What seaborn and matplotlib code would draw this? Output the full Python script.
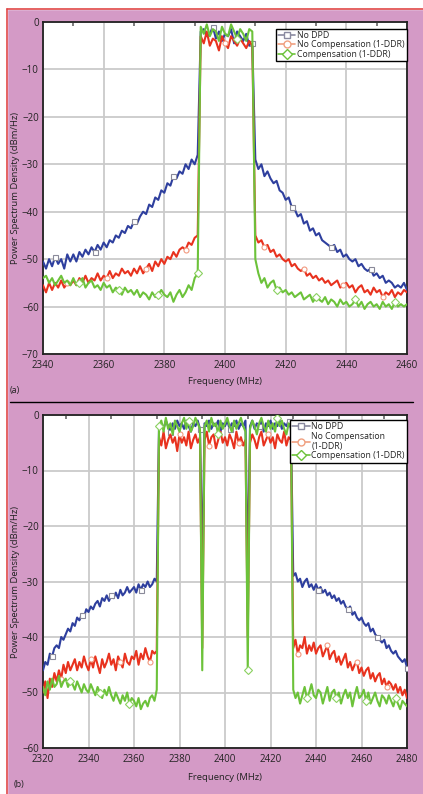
import numpy as np
import pandas as pd
import matplotlib
matplotlib.use("Agg")
import matplotlib.pyplot as plt
from matplotlib.lines import Line2D
import seaborn as sns

######################
## Data (a): 2340-2460 MHz, 1 MHz steps
######################

freq_a = np.arange(2340, 2461)

blue_a_left = [-50.5, -52, -50, -51.5, -49.5, -51, -50, -52, -49, -50.5,
               -49, -50.5, -48.5, -49.5, -48, -49, -47.5, -48.5, -47, -48,
               -46.5, -47.5, -46, -46.5, -45, -45.5, -44, -44.5, -43, -43.5,
               -42, -42.5, -41, -40, -40.5, -38.5, -39, -37, -37.5, -35.5,
               -36, -34, -34.5, -32.5, -33, -31.5, -32, -30, -31, -29,
               -30, -28]
blue_a_band = [-2, -1.5, -3, -2.5, -1, -3.5, -2, -4, -2.5, -3, -1.5, -4.5, -2, -3, -4, -2.5, -5, -4.5]
blue_a_right = [-29, -31, -30, -32.5, -31.5, -33, -34, -33.5, -35.5, -36,
                -37.5, -37, -39, -39.5, -41, -40.5, -42.5, -42, -44, -43.5,
                -45, -44.5, -46, -46.5, -47, -47.5, -47, -48.5, -48, -49.5,
                -49, -50, -50.5, -50, -51.5, -51, -52, -52.5, -52, -53.5,
                -53, -54, -53.5, -55, -54.5, -55, -56, -55.5, -56, -55,
                -56.5]

red_a_left = [-55.5, -57, -55, -56.5, -55, -56, -54.5, -56, -55, -55.5,
              -54.5, -55.5, -54, -55, -53.5, -55, -54, -54.5, -53, -54.5,
              -53.5, -54, -52.5, -54, -53, -53.5, -52, -53, -52.5, -53.5,
              -52, -53, -51.5, -53, -52, -51, -52.5, -50.5, -51.5, -50,
              -51, -49.5, -50, -48.5, -49.5, -48, -47.5, -48, -46.5, -47,
              -45.5, -45]
red_a_band = [-3, -4.5, -2, -5, -3.5, -4, -6, -3, -4.5, -5.5, -3, -4, -5, -3.5, -4.5, -5.5, -4, -5]
red_a_right = [-45, -46.5, -46, -47.5, -47, -48.5, -48, -49.5, -49, -50,
               -50.5, -50, -51.5, -51, -52, -52.5, -52, -53.5, -53, -54,
               -53.5, -54.5, -54, -55, -54.5, -55.5, -55, -54.5, -56, -55.5,
               -55, -56, -55.5, -57, -56, -55.5, -57, -56.5, -57.5, -56,
               -57, -56.5, -58, -57, -57.5, -56.5, -58, -57, -57.5, -56.5,
               -57]

green_a_left = [-54, -53.5, -55, -54, -55.5, -54.5, -53.5, -55, -54.5, -55.5,
                -54, -55.5, -55, -54, -56, -55, -54.5, -56, -55.5, -56.5,
                -55, -56, -55.5, -57, -56, -56.5, -57.5, -56, -57, -56.5,
                -57.5, -56.5, -58, -57, -57.5, -58.5, -57, -58, -57.5, -56.5,
                -57.5, -58, -57, -59, -57.5, -56.5, -58, -57, -55.5, -56.5,
                -54, -53]
green_a_band = [-1, -2.5, -0.5, -3, -1.5, -2, -4, -1, -2.5, -3, -0.5, -2, -3.5, -1.5, -2.5, -4, -1.5, -2]
green_a_right = [-50, -53, -55, -54, -56, -55, -54.5, -56.5, -56, -57,
                 -56.5, -57.5, -57, -58, -57.5, -57, -58.5, -58, -57.5, -59,
                 -58, -58.5, -59, -58, -59.5, -58.5, -59, -60, -58.5, -59.5,
                 -59, -60, -59.5, -58.5, -60, -59, -60.5, -59.5, -59, -60,
                 -59.5, -60.5, -59, -60, -59.5, -60.5, -59, -60, -59.5, -60,
                 -59.5]

######################
## Data (b): 2320-2480 MHz, 1 MHz steps
######################

freq_b = np.arange(2320, 2481)

blue_b_left = [-46, -44.5, -45, -43, -43.5, -42, -41.5, -42, -40, -40.5,
               -39.5, -38.5, -39, -37.5, -38, -36.5, -37, -36, -36.5, -35,
               -35.5, -34.5, -35, -34, -33.5, -34.5, -33, -33.5, -32.5, -33.5,
               -32.5, -33, -32, -33, -31.5, -32.5, -32, -31, -32, -31.5,
               -31, -32, -30.5, -31.5, -30.5, -31, -30, -31, -30.5, -29.5,
               -30]
blue_b_band = [-2, -1.5, -2.5, -1, -2, -3, -1.5, -2.5, -1, -2,
               -1.5, -2.5, -1, -2, -3, -1.5, -2, -1, -2.5,
               -28,
               -1.5, -2, -1, -2.5, -1.5, -2, -1, -3, -1.5, -2,
               -1, -2.5, -1.5, -2, -1, -2.5, -1.5, -2, -1,
               -29,
               -2, -1, -2.5, -1.5, -2, -1, -3, -1.5, -2, -1,
               -2.5, -1.5, -2, -1, -2.5, -1.5, -2, -1, -2.5]
blue_b_right = [-29, -28.5, -30, -29.5, -31, -30, -29.5, -31, -30.5, -31.5,
                -30.5, -31.5, -31, -32, -31.5, -32.5, -32, -33, -32.5, -33.5,
                -33, -34, -33.5, -34.5, -35, -34.5, -36, -35.5, -36.5, -37,
                -36.5, -37.5, -38, -37.5, -39, -38.5, -39.5, -40, -40.5, -41,
                -40.5, -42, -41.5, -42.5, -43, -42.5, -43.5, -44, -44.5, -44,
                -45.5]

red_b_left = [-50, -48, -51, -47.5, -49, -46.5, -48, -46, -47.5, -45,
              -46.5, -44.5, -46, -45, -44, -46, -44.5, -45.5, -43.5, -45,
              -46, -44, -45.5, -43.5, -45, -46.5, -44, -45.5, -44.5, -43,
              -45, -44, -46, -43.5, -44.5, -45.5, -43, -44.5, -45, -43.5,
              -44, -42.5, -45, -43, -44, -42, -43.5, -44.5, -42.5, -43,
              -42.5]
red_b_band = [-4, -5.5, -3, -6, -4.5, -3.5, -5, -4, -6.5, -3.5,
              -5, -4, -5.5, -3, -6, -4.5, -3.5, -5, -4,
              -42,
              -4.5, -3, -5.5, -4, -3.5, -6, -4.5, -3, -5, -4,
              -5.5, -3.5, -4.5, -6, -3, -5, -4, -5.5, -4.5,
              -40,
              -5, -3.5, -4.5, -6, -4, -3, -5.5, -4.5, -3.5, -5,
              -4, -6, -3.5, -4.5, -5, -3, -5.5, -4, -4.5]
red_b_right = [-42, -40.5, -43, -41.5, -42, -40, -43, -41.5, -42.5, -41,
               -43, -42, -41.5, -43.5, -42.5, -41.5, -44, -43, -42.5, -44.5,
               -43.5, -45, -44, -43, -45.5, -44.5, -46, -45, -44.5, -46.5,
               -45.5, -47, -46, -45.5, -47.5, -46.5, -48, -47, -46.5, -48.5,
               -47.5, -49, -48, -48.5, -49.5, -48.5, -50, -49, -50.5, -49.5,
               -51]

green_b_left = [-49, -50.5, -48, -49.5, -47.5, -49, -48.5, -47, -49, -48,
                -47.5, -49, -48, -48.5, -49.5, -48, -49, -50, -48.5, -49.5,
                -50, -48.5, -49.5, -50.5, -49, -50, -51, -49.5, -50.5, -49,
                -50.5, -51.5, -50, -51, -52, -50.5, -51.5, -50, -52, -51,
                -51.5, -52.5, -51, -53, -52, -51.5, -52.5, -51, -50.5, -51.5,
                -49.5]
green_b_band = [-2, -1, -3, -0.5, -2.5, -1.5, -3.5, -1, -2, -3,
                -1.5, -0.5, -2.5, -1, -3, -2, -0.5, -1.5, -2.5,
                -46,
                -2, -1, -3, -0.5, -2, -1.5, -3.5, -1, -2.5, -1.5,
                -0.5, -2, -3, -1, -2.5, -1.5, -0.5, -2, -3,
                -46,
                -2.5, -1, -2, -3.5, -1.5, -0.5, -2, -3, -1, -2.5,
                -1.5, -3, -0.5, -2, -1, -2.5, -3.5, -1.5, -2]
green_b_right = [-49.5, -51, -50, -52, -50.5, -49, -51, -50, -48.5, -50.5,
                 -51, -49.5, -50, -52, -50.5, -49, -51.5, -50, -49.5, -51,
                 -50, -52, -50.5, -49.5, -51, -50, -52.5, -50.5, -49, -51,
                 -50.5, -49.5, -51.5, -50, -52, -51, -50, -51.5, -52.5, -50.5,
                 -51, -52, -50.5, -51.5, -52.5, -51, -52, -53, -51.5, -52,
                 -52.5]

labels_a = ["No DPD", "No Compensation (1-DDR)", "Compensation (1-DDR)"]
labels_b = ["No DPD", "No Compensation\n(1-DDR)", "Compensation (1-DDR)"]

######################
## Style
######################

sns.set_theme(style="whitegrid")
plt.rcParams['font.family'] = ['Open Sans', 'DejaVu Sans']

bg = "#d49ac6"
colors = ["#2e3f9e", "#e8321e", "#6cc23a"]
edge_colors = ["#8a8a9a", "#f29a80", "#8ad060"]
legend_line_colors = ["#8a8aa0", "#f0a080", "#6cc23a"]
markers = ["s", "o", "D"]

fig = plt.figure(figsize=(4.23, 7.94), dpi=100)
fig.patch.set_facecolor(bg)

# red frame line on top / left and the white corner outside it
fig.add_artist(plt.Rectangle((0, 0), 7 / 423, 1, color="white", transform=fig.transFigure, zorder=0))
fig.add_artist(plt.Rectangle((0, 1 - 9 / 794), 1, 9 / 794, color="white", transform=fig.transFigure, zorder=0))
fig.add_artist(Line2D([7 / 423, 1], [1 - 9 / 794] * 2, color="#e04848", lw=1.2, transform=fig.transFigure))
fig.add_artist(Line2D([7 / 423] * 2, [0, 1 - 9 / 794], color="#e04848", lw=1.2, transform=fig.transFigure))
# separator
fig.add_artist(Line2D([10 / 423, 413 / 423], [1 - 402 / 794] * 2, color="black", lw=1.0, transform=fig.transFigure))

ax_a = fig.add_axes([43 / 423, 1 - 354 / 794, 364 / 423, 332 / 794])
ax_b = fig.add_axes([43 / 423, 1 - 748 / 794, 364 / 423, 333 / 794])

series_a = [blue_a_left + blue_a_band + blue_a_right,
            red_a_left + red_a_band + red_a_right,
            green_a_left + green_a_band + green_a_right]
series_b = [blue_b_left + blue_b_band + blue_b_right,
            red_b_left + red_b_band + red_b_right,
            green_b_left + green_b_band + green_b_right]


def draw(ax, freq, series, labels, xlim, ylim, xticks, yticks, legend_anchor):
    for i, vals in enumerate(series):
        df = pd.DataFrame({"freq": freq, "psd": vals})
        sns.lineplot(data=df, x="freq", y="psd", ax=ax, color=colors[i], lw=1.5,
                     estimator=None, marker=markers[i], markersize=3.6,
                     markevery=list(range(4 + 4 * i, len(freq), 13)),
                     markerfacecolor="white", markeredgecolor=edge_colors[i],
                     markeredgewidth=0.8, zorder=3 + i)
    ax.set_xlim(*xlim)
    ax.set_ylim(*ylim)
    ax.set_xticks(xticks)
    ax.set_yticks(yticks)
    ax.set_xticks(np.arange(xlim[0], xlim[1] + 1, 10), minor=True)
    ax.grid(True, which="major", color="#cacaca", lw=1.3)
    ax.grid(False, which="minor")
    ax.set_facecolor("white")
    for s in ax.spines.values():
        s.set_color("#222222")
        s.set_linewidth(1.3)
    ax.tick_params(axis="both", labelsize=7, colors="#222222", length=0)
    ax.tick_params(axis="x", pad=4)
    ax.tick_params(axis="y", pad=3)
    ax.tick_params(axis="x", which="minor", direction="in", top=True, bottom=False,
                   length=3, width=1.2, color="#666666")
    ax.set_xlabel("")
    ax.set_ylabel("")
    handles = [Line2D([], [], color=legend_line_colors[i], lw=1.2, marker=markers[i],
                      markersize=5, markerfacecolor="white",
                      markeredgecolor=legend_line_colors[i], markeredgewidth=1.0)
               for i in range(3)]
    leg = ax.legend(handles, labels, loc="upper right", bbox_to_anchor=legend_anchor,
                    fontsize=6.3, frameon=True, fancybox=False, framealpha=1,
                    edgecolor="black", borderpad=0.25, labelspacing=0.05,
                    handlelength=2.0, handletextpad=0.2, borderaxespad=0, numpoints=1)
    leg.get_frame().set_linewidth(1.0)
    leg.set_zorder(10)


draw(ax_a, freq_a, series_a, labels_a, (2340, 2460), (-70, 0),
     np.arange(2340, 2461, 20), np.arange(-70, 1, 10), (1.0, 0.98))
draw(ax_b, freq_b, series_b, labels_b, (2320, 2480), (-60, 0),
     np.arange(2320, 2481, 20), np.arange(-60, 1, 10), (1.0, 0.985))

for ytxt in [1 - 382 / 794, 1 - 777 / 794]:
    fig.text(225 / 423, ytxt, "Frequency (MHz)", ha="center", va="center", fontsize=6.8, color="#222222")

fig.text(15 / 423, 1 - 188 / 794, "Power Spectrum Density (dBm/Hz)", rotation=90,
         ha="center", va="center", fontsize=6.8, color="#222222")
fig.text(15 / 423, 1 - 582 / 794, "Power Spectrum Density (dBm/Hz)", rotation=90,
         ha="center", va="center", fontsize=6.8, color="#222222")
fig.text(10 / 423, 1 - 390 / 794, "(a)", ha="left", va="center", fontsize=6.5, color="#222222")
fig.text(14 / 423, 1 - 785 / 794, "(b)", ha="left", va="center", fontsize=6.5, color="#222222")

plt.savefig("out.png", dpi=100, facecolor=fig.get_facecolor())
